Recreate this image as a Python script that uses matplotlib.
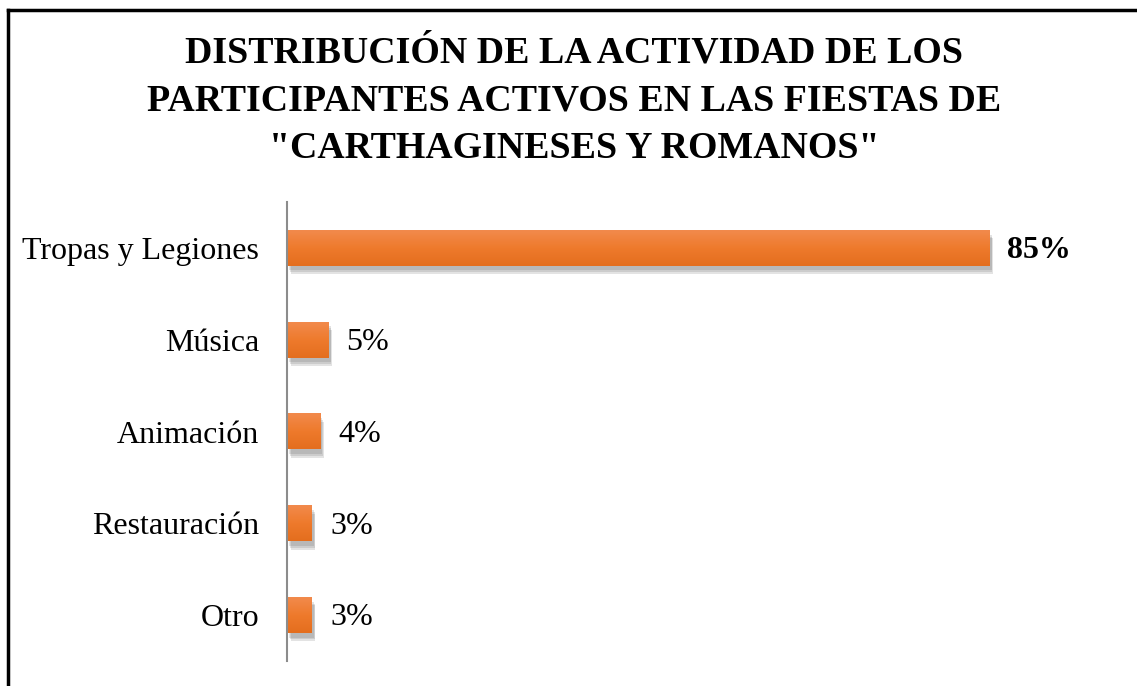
import matplotlib.pyplot as plt
import numpy as np
from matplotlib.lines import Line2D
from matplotlib.patches import Rectangle
from matplotlib.colors import LinearSegmentedColormap

# data
categorias = ["Tropas y Legiones", "Música", "Animación", "Restauración", "Otro"]
porcentajes = [85, 5, 4, 3, 3]
etiquetas = ["85%", "5%", "4%", "3%", "3%"]
titulo = 'DISTRIBUCIÓN DE LA ACTIVIDAD DE LOS\nPARTICIPANTES ACTIVOS EN LAS FIESTAS DE\n"CARTHAGINESES Y ROMANOS"'

plt.rcParams['font.family'] = ['Liberation Serif', 'DejaVu Serif']

fig = plt.figure(figsize=(11.37, 6.86), dpi=100)
ax = fig.add_axes([0.2524, 0.0364, 0.654, 0.669])

pos = list(range(len(categorias)))
alto = 0.39
degradado = LinearSegmentedColormap.from_list('naranja', ['#F28A4C', '#EE7A2C', '#E46E1E'])
grad = np.linspace(0, 1, 64).reshape(-1, 1)

# sombra de las barras
for p, v in zip(pos, porcentajes):
    for k in range(3):
        d = 0.02 * (k + 1)
        ax.add_patch(Rectangle((0.2 + d * 4, p - alto / 2 + 0.03 + d), v, alto, color='#555555',
                               alpha=0.16, zorder=1, linewidth=0))
bars = ax.barh(pos, porcentajes, height=alto, color='#EE7A2C', zorder=2)
for b in bars:
    x0, y0 = b.get_x(), b.get_y()
    ax.imshow(grad, cmap=degradado, aspect='auto', zorder=3,
              extent=(x0, x0 + b.get_width(), y0 + b.get_height(), y0))

for p, v, t in zip(pos, porcentajes, etiquetas):
    ax.text(v + 2.2, p + 0.03, t, va='center', ha='left', fontsize=23,
            fontweight='bold' if v == max(porcentajes) else 'normal', color='black')

ax.set_xlim(0, 90)
ax.set_ylim(4.5, -0.5)
ax.set_yticks(pos)
ax.set_yticklabels(categorias, fontsize=23)
ax.tick_params(axis='y', length=0, pad=20)
ax.set_xticks([])
for s in ['top', 'right', 'bottom']:
    ax.spines[s].set_visible(False)
ax.spines['left'].set_color('#8c8c8c')
ax.spines['left'].set_linewidth(1.5)
ax.spines['left'].set_zorder(5)

fig.text(0.505, 1 - 101 / 686, titulo, ha='center', va='center', fontsize=27.3,
         fontweight='bold', linespacing=1.47)

# marco superior e izquierdo
fig.add_artist(Line2D([7.5 / 1137, 1], [1 - 10 / 686, 1 - 10 / 686], color='black', lw=2.5,
                      transform=fig.transFigure))
fig.add_artist(Line2D([7.5 / 1137, 7.5 / 1137], [0, 1 - 10 / 686], color='black', lw=2.5,
                      transform=fig.transFigure))

fig.savefig("out.png", dpi=100)
plt.close()
